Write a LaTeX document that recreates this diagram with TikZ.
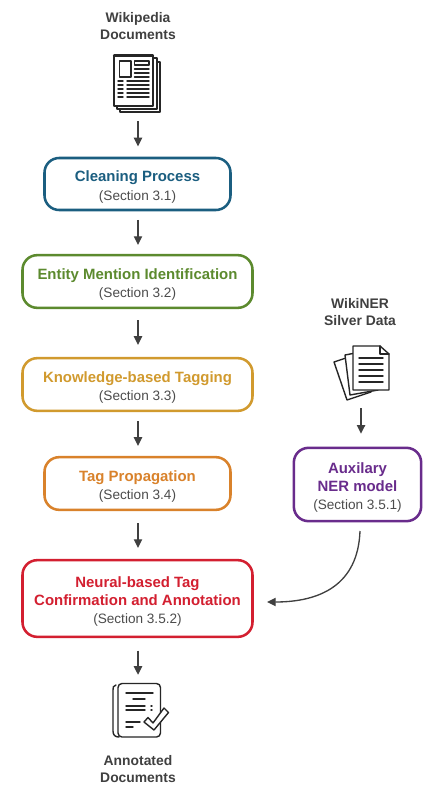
\documentclass[tikz,border=0pt]{standalone}
\usepackage{fontspec}
\setmainfont{Liberation Sans}
\usetikzlibrary{arrows.meta}
\definecolor{cblue}{HTML}{1B5E80}
\definecolor{cgreen}{HTML}{5C8A2E}
\definecolor{cgold}{HTML}{D19A2E}
\definecolor{corange}{HTML}{D9822B}
\definecolor{cred}{HTML}{D31F30}
\definecolor{cpurple}{HTML}{692C8C}
\definecolor{cink}{HTML}{404040}
\newcommand{\mytitle}[1]{{\fontsize{10.4pt}{12.6pt}\selectfont\bfseries #1}}
\newcommand{\mysub}[1]{{\fontsize{10.2pt}{12pt}\selectfont #1}}
\newcommand{\ctitle}[2]{\textcolor{#1}{{\fontsize{11.2pt}{12.6pt}\selectfont\bfseries #2}}}
\newcommand{\lift}{\rule{0pt}{12.5pt}}
\tikzset{
  stagebox/.style={draw=#1,line width=1.9pt,rounded corners=11pt,inner sep=0pt,align=center,text=black!70},
  flowline/.style={draw=cink,line width=1pt,-{Triangle[length=6.5pt,width=6.2pt]}},
  textlab/.style={align=center,text=cink,inner sep=0pt},
  iconpen/.style={draw=black!85,line width=1.05pt,line join=round,line cap=round},
}
\begin{document}
\begin{tikzpicture}[x=0.75pt,y=-0.75pt]
\path[use as bounding box,fill=white] (0,0) rectangle (433,798);
% labels
\node[textlab] (wiki) at (138,26) {\mytitle{Wikipedia}\\[0.6pt]\mytitle{Documents}};
\node[textlab] (wner) at (360,312) {\mytitle{WikiNER}\\[0.6pt]\mytitle{Silver Data}};
\node[textlab] (anno) at (138,769) {\mytitle{Annotated}\\[0.6pt]\mytitle{Documents}};
% stage boxes
\node[stagebox=cblue,minimum width=139.5pt,minimum height=39pt] (clean) at (137.5,184) {\lift\ctitle{cblue}{Cleaning Process}\\[2pt]\mysub{(Section 3.1)}};
\node[stagebox=cgreen,minimum width=172.5pt,minimum height=39.5pt] (entity) at (137.5,281.5) {\lift\ctitle{cgreen}{Entity Mention Identification}\\[1pt]\mysub{(Section 3.2)}};
\node[stagebox=cgold,minimum width=172.5pt,minimum height=39.5pt] (know) at (137.5,384.5) {\lift\ctitle{cgold}{Knowledge-based Tagging}\\[2pt]\mysub{(Section 3.3)}};
\node[stagebox=corange,minimum width=139.5pt,minimum height=39.5pt] (prop) at (137.5,483.5) {\lift\ctitle{corange}{Tag Propagation}\\[2pt]\mysub{(Section 3.4)}};
\node[stagebox=cred,minimum width=172.5pt,minimum height=57.5pt] (neural) at (137.5,598.5) {\lift\ctitle{cred}{Neural-based Tag}\\[1.5pt]\ctitle{cred}{Confirmation and Annotation}\\[1.5pt]\mysub{(Section 3.5.2)}};
\node[stagebox=cpurple,minimum width=95.5pt,minimum height=55pt] (aux) at (357.5,484.5) {\lift\ctitle{cpurple}{Auxilary}\\[1.5pt]\ctitle{cpurple}{NER model}\\[2pt]\mysub{(Section 3.5.1)}};
% icon 1: newspaper stack
\node[inner sep=0pt,minimum width=34pt,minimum height=43pt] (docA) at (138,84) {};
\begin{scope}[iconpen]
  \draw[fill=white] (120,62) rectangle (160,112);
  \draw[fill=white] (117,58) rectangle (157,109);
  \draw[fill=white] (114,55.5) rectangle (153,106);
  \draw[line width=1.6pt] (114,55.5) -- (153,55.5);
  \draw (119.5,61) rectangle (131,77);
  \draw (134.5,61) rectangle (149,65);
  \foreach \yy in {69,73,77} \draw (134.5,\yy) -- (149,\yy);
  \foreach \yy in {81,85,89,93,97} {\draw (118,\yy) -- (123,\yy); \draw (127,\yy) -- (149,\yy);}
\end{scope}
% icon 2: loose sheets
\node[inner sep=0pt,minimum width=40pt,minimum height=42pt] (docB) at (361,373) {};
\begin{scope}[iconpen]
  \draw[fill=white] (334,362) -- (352,356) -- (371,392) -- (347,400) -- cycle;
  \draw[fill=white] (345,355) -- (366,351) -- (378,390) -- (350,395) -- cycle;
  \draw[fill=white] (353,346) -- (380,346) -- (389,354) -- (389,390) -- (353,390) -- cycle;
  \draw (380,346) -- (380,354) -- (389,354);
  \foreach \yy in {358,364,370,376,382} \draw (359,\yy) -- (383,\yy);
\end{scope}
% icon 3: checked document
\node[inner sep=0pt,minimum width=42pt,minimum height=42pt] (docC) at (138,710) {};
\begin{scope}[iconpen]
  \draw (116,685) .. controls (113,686) and (113,687) .. (113,690) -- (113,731) .. controls (113,735) and (115,737) .. (119,737);
  \draw[fill=white,rounded corners=3pt] (118,683.5) rectangle (160.5,737);
  \draw (126,693) -- (153,693);
  \draw (133,699) -- (145,699);
  \draw (126,706) -- (145,706);
  \draw (126,710) -- (145,710);
  \draw (151,706) -- (152,706);
  \draw (151,710) -- (152,710);
  \draw (126,722) -- (140,722);
  \draw (126,727) -- (133,727);
  \draw[fill=white] (144,722) -- (148,717.5) -- (153,723) -- (164,708) -- (168.5,712.5) -- (154,730) -- cycle;
\end{scope}
% flow arrows
\draw[flowline,shorten <=6.2pt,shorten >=7.8pt] (docA.south) -- (docA.south |- clean.north);
\draw[flowline,shorten <=6.5pt,shorten >=6.7pt] (docA.south |- clean.south) -- (docA.south |- entity.north);
\draw[flowline,shorten <=8.2pt,shorten >=9pt] (docA.south |- entity.south) -- (docA.south |- know.north);
\draw[flowline,shorten <=6.7pt,shorten >=7.5pt] (docA.south |- know.south) -- (docA.south |- prop.north);
\draw[flowline,shorten <=9pt,shorten >=8.2pt] (docA.south |- prop.south) -- (docA.south |- neural.north);
\draw[flowline,shorten <=9.3pt,shorten >=5.2pt] (docA.south |- neural.south) -- (docC.north);
\draw[flowline,shorten <=5.2pt,shorten >=9.6pt] (docB.south) -- (docB.south |- aux.north);
\coordinate (cs) at (360,531);
\coordinate (ce) at (267,602);
\draw[flowline] (cs) .. controls (358,585) and (320,602) .. (ce);
\end{tikzpicture}
\end{document}
